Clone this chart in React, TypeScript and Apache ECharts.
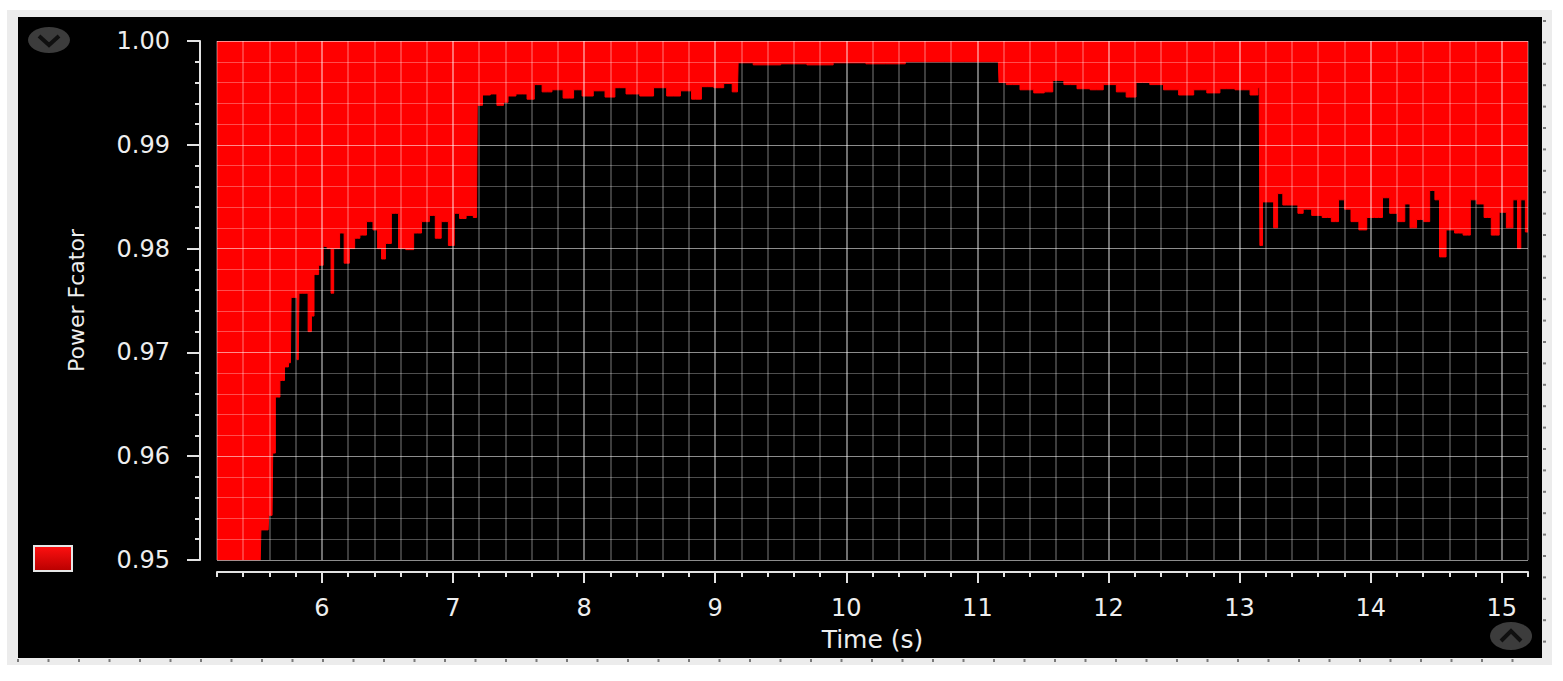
import React, { useEffect, useRef } from "react";
import * as echarts from "echarts";

// [time (s), lower edge of power factor]
const startupRamp: [number, number][] = [
  [5.2, 0.95], [5.53, 0.95], [5.54, 0.9529], [5.59, 0.9529], [5.6, 0.9543], [5.62, 0.9543],
  [5.63, 0.9603], [5.66, 0.9657], [5.7, 0.9673], [5.73, 0.9686], [5.76, 0.969],
  [5.77, 0.9753], [5.8, 0.9753], [5.82, 0.9693], [5.83, 0.9757], [5.88, 0.9757], [5.91, 0.972],
  [5.93, 0.9735], [5.95, 0.9775], [6.0, 0.9784], [6.02, 0.9802], [6.06, 0.98], [6.08, 0.9757],
  [6.1, 0.98], [6.12, 0.98], [6.15, 0.9815], [6.19, 0.9786], [6.23, 0.98], [6.27, 0.981],
  [6.31, 0.9813], [6.37, 0.9826], [6.41, 0.9818], [6.44, 0.98], [6.47, 0.979], [6.5, 0.9805],
  [6.56, 0.9834], [6.61, 0.98], [6.67, 0.9799], [6.73, 0.9815], [6.79, 0.9826], [6.85, 0.9832],
  [6.88, 0.981], [6.94, 0.9826], [6.99, 0.9803], [7.03, 0.9834], [7.07, 0.9829], [7.13, 0.9832],
  [7.18, 0.983],
];
const stageOne: [number, number][] = [
  [7.19, 0.9938], [7.26, 0.9948], [7.31, 0.9949], [7.36, 0.9938], [7.41, 0.9941], [7.43, 0.9947],
  [7.53, 0.9949], [7.6, 0.9944], [7.64, 0.9958], [7.72, 0.9951], [7.79, 0.9953], [7.89, 0.9945],
  [7.95, 0.9953], [8.02, 0.9947], [8.12, 0.9952], [8.2, 0.9946], [8.27, 0.9955], [8.37, 0.9949],
  [8.48, 0.9947], [8.58, 0.9955], [8.68, 0.9947], [8.79, 0.9952], [8.85, 0.9944], [8.94, 0.9956],
  [9.04, 0.9955], [9.09, 0.9959], [9.17, 0.9951],
];
const stageTwo: [number, number][] = [
  [9.18, 0.9979], [9.4, 0.9977], [9.6, 0.9978], [9.8, 0.9977], [10.0, 0.9979], [10.3, 0.9978],
  [10.6, 0.998], [10.9, 0.998], [11.1, 0.998], [11.16, 0.998],
];
const stageThree: [number, number][] = [
  [11.17, 0.996], [11.27, 0.9958], [11.38, 0.9953], [11.48, 0.995], [11.54, 0.9951], [11.61, 0.9962],
  [11.71, 0.9958], [11.81, 0.9954], [11.91, 0.9953], [12.01, 0.9958], [12.11, 0.9951], [12.16, 0.9946],
  [12.26, 0.996], [12.37, 0.9958], [12.47, 0.9953], [12.6, 0.9948], [12.7, 0.9953], [12.8, 0.995],
  [12.9, 0.9954], [13.03, 0.9953], [13.13, 0.9948], [13.15, 0.9955],
];
const stageFour: [number, number][] = [
  [13.16, 0.9803], [13.17, 0.9803], [13.18, 0.9845], [13.24, 0.9845], [13.28, 0.982], [13.3, 0.9853],
  [13.36, 0.9842], [13.43, 0.9842], [13.46, 0.9834], [13.51, 0.9838], [13.59, 0.9832], [13.67, 0.983],
  [13.73, 0.9826], [13.78, 0.9847], [13.82, 0.9838], [13.88, 0.9826], [13.94, 0.9818], [14.0, 0.983],
  [14.06, 0.983], [14.12, 0.9849], [14.17, 0.9834], [14.24, 0.9826], [14.28, 0.9843], [14.32, 0.982],
  [14.38, 0.9828], [14.43, 0.9826], [14.47, 0.9856], [14.51, 0.9847], [14.54, 0.9792], [14.61, 0.9818],
  [14.67, 0.9815], [14.74, 0.9813], [14.78, 0.9847], [14.84, 0.9843], [14.89, 0.983], [14.95, 0.9813],
  [15.01, 0.9835], [15.06, 0.982], [15.11, 0.9847], [15.13, 0.98], [15.16, 0.9847], [15.2, 0.9816],
];

const timeMajorTicks = [6, 7, 8, 9, 10, 11, 12, 13, 14, 15];
const timeRange = [5.2, 15.2];
const pfRange = [0.95, 1.0];

const FONT = "DejaVu Sans";
const MAJOR = "rgba(255,255,255,0.55)";
const MINOR = "rgba(255,255,255,0.3)";
const AXIS = "#e2e2e2";

export default function App() {
  const ref = useRef<HTMLDivElement>(null);
  useEffect(() => {
    if (!ref.current) return;
    const chart = echarts.init(ref.current, undefined, { renderer: "svg" });
    const data = [...startupRamp, ...stageOne, ...stageTwo, ...stageThree, ...stageFour];

    const ruler: any[] = [];
    for (let x = 17; x < 1540; x += 30.5) {
      ruler.push({ type: "rect", z: -1, shape: { x, y: 659, width: 2, height: 3 }, style: { fill: "#7a7a7a" } });
    }
    for (let y = 20; y < 660; y += 21.4) {
      ruler.push({ type: "rect", z: -1, shape: { x: 1543, y, width: 3, height: 2 }, style: { fill: "#7a7a7a" } });
    }

    chart.setOption({
      animation: false,
      backgroundColor: "#ffffff",
      textStyle: { fontFamily: FONT },
      grid: { left: 217, right: 35, top: 41, bottom: 121 },
      legend: {
        left: 28,
        top: 540,
        itemWidth: 38,
        itemHeight: 25,
        icon: "rect",
        formatter: () => "",
        data: ["Power Factor"],
        itemStyle: {
          color: {
            type: "linear", x: 0, y: 0, x2: 0, y2: 1,
            colorStops: [{ offset: 0, color: "#ff1010" }, { offset: 1, color: "#b80000" }],
          },
          borderColor: "#e6e6e6",
          borderWidth: 2,
        },
      },
      graphic: [
        { type: "rect", z: -3, shape: { x: 7, y: 10, width: 1545, height: 655 }, style: { fill: "#ececec" } },
        { type: "rect", z: -2, shape: { x: 18, y: 17, width: 1524, height: 641 }, style: { fill: "#000000" } },
        ...ruler,
        { type: "ellipse", z: 10, shape: { cx: 49, cy: 40, rx: 21, ry: 13 }, style: { fill: "#3c3c3c" } },
        { type: "polyline", z: 11, shape: { points: [[39, 36], [49, 45], [59, 36]] }, style: { stroke: "#101010", lineWidth: 4, fill: "none" } },
        { type: "ellipse", z: 10, shape: { cx: 1511, cy: 636, rx: 21, ry: 14 }, style: { fill: "#3c3c3c" } },
        { type: "polyline", z: 11, shape: { points: [[1501, 641], [1511, 631], [1521, 641]] }, style: { stroke: "#101010", lineWidth: 4, fill: "none" } },
      ],
      xAxis: [
        {
          type: "value",
          min: timeRange[0],
          max: timeRange[1],
          interval: 0.2,
          position: "bottom",
          offset: 12,
          z: 3,
          axisLine: { show: true, onZero: false, lineStyle: { color: AXIS, width: 2 } },
          axisTick: { show: true, length: 5, lineStyle: { color: AXIS, width: 2 } },
          axisLabel: {
            color: "#eeeeee",
            fontSize: 24,
            fontFamily: FONT,
            margin: 24,
            formatter: (v: number) => (Math.abs(v - Math.round(v)) < 1e-6 ? String(Math.round(v)) : ""),
          },
          splitLine: { show: true, lineStyle: { color: [MINOR, MINOR, MINOR, MINOR, MAJOR], width: 1.6 } },
          name: "Time (s)",
          nameLocation: "middle",
          nameGap: 55,
          nameTextStyle: { color: "#eeeeee", fontSize: 25, fontFamily: FONT },
        },
        {
          type: "value",
          min: timeRange[0],
          max: timeRange[1],
          position: "bottom",
          offset: 12,
          z: 3,
          axisLine: { show: false },
          axisTick: { show: true, length: 11, customValues: timeMajorTicks, lineStyle: { color: AXIS, width: 2 } },
          axisLabel: { show: false },
          splitLine: { show: false },
        },
      ],
      yAxis: [
        {
          type: "value",
          min: pfRange[0],
          max: pfRange[1],
          interval: 0.002,
          position: "left",
          offset: 17,
          z: 3,
          axisLine: { show: true, onZero: false, lineStyle: { color: AXIS, width: 2 } },
          axisTick: { show: true, length: 5, lineStyle: { color: AXIS, width: 2 } },
          axisLabel: { show: false },
          splitLine: { show: true, lineStyle: { color: [MAJOR, MINOR, MINOR, MINOR, MINOR], width: 1.2 } },
        },
        {
          type: "value",
          min: pfRange[0],
          max: pfRange[1],
          interval: 0.01,
          position: "left",
          offset: 17,
          z: 3,
          axisLine: { show: false },
          axisTick: { show: true, length: 13, lineStyle: { color: AXIS, width: 2 } },
          axisLabel: {
            color: "#eeeeee",
            fontSize: 24,
            fontFamily: FONT,
            margin: 30,
            formatter: (v: number) => v.toFixed(2),
          },
          splitLine: { show: false },
          name: "Power Fcator",
          nameLocation: "middle",
          nameGap: 113,
          nameTextStyle: { color: "#eeeeee", fontSize: 22, fontFamily: FONT },
        },
      ],
      series: [
        {
          name: "Power Factor",
          type: "line",
          xAxisIndex: 0,
          yAxisIndex: 0,
          data,
          step: "middle",
          showSymbol: false,
          symbol: "none",
          z: 2,
          lineStyle: { color: "#ff0000", width: 1 },
          itemStyle: { color: "#ff0000" },
          areaStyle: { color: "#ff0000", opacity: 1, origin: "end" },
        },
      ],
    });
    return () => chart.dispose();
  }, []);
  return <div ref={ref} style={{ position: "fixed", left: 0, top: 0, width: 1563, height: 681 }} />;
}
